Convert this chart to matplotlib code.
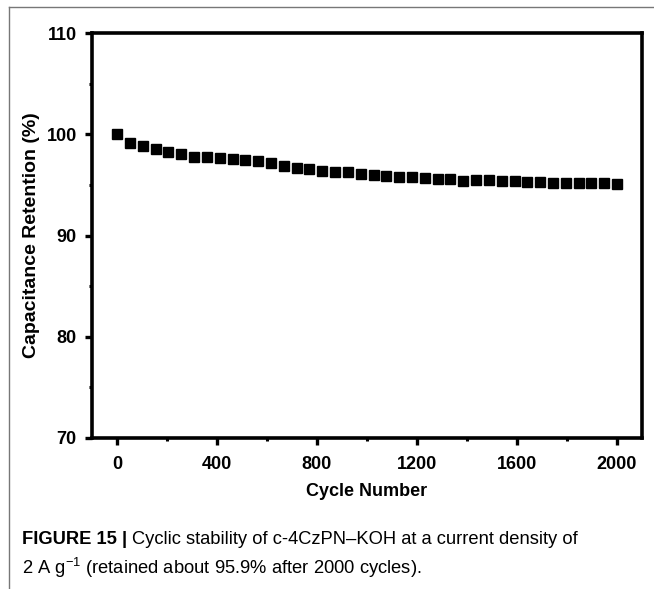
import matplotlib
matplotlib.use("Agg")
import matplotlib.pyplot as plt
from matplotlib.lines import Line2D

plt.rcParams['font.family'] = ['Liberation Sans', 'DejaVu Sans']
plt.rcParams['mathtext.fontset'] = 'custom'
plt.rcParams['mathtext.rm'] = 'Liberation Sans'
plt.rcParams['mathtext.it'] = 'Liberation Sans:italic'

cycles = [0, 51, 103, 154, 205, 256, 308, 359, 410, 462, 513, 564, 615, 667,
          718, 769, 821, 872, 923, 974, 1026, 1077, 1128, 1179, 1231, 1282,
          1333, 1385, 1436, 1487, 1538, 1590, 1641, 1692, 1744, 1795, 1846,
          1897, 1949, 2000]
retention = [100.0, 99.18, 98.85, 98.5, 98.2, 98.05, 97.76, 97.76, 97.66, 97.53,
             97.43, 97.33, 97.17, 96.87, 96.7, 96.54, 96.4, 96.28, 96.28, 96.1,
             96.02, 95.92, 95.82, 95.75, 95.69, 95.59, 95.56, 95.42, 95.52, 95.46,
             95.39, 95.36, 95.33, 95.26, 95.19, 95.23, 95.23, 95.19, 95.23, 95.13]
x_ticks = [0, 400, 800, 1200, 1600, 2000]
y_ticks = [70, 80, 90, 100, 110]
x_label = "Cycle Number"
y_label = "Capacitance Retention (%)"
caption_bold = "FIGURE 15 | "
caption_line1 = "Cyclic stability of c-4CzPN\u2013KOH at a current density of"
caption_line2 = r"2 A g$^{-1}$ (retained about 95.9% after 2000 cycles)."

W, H = 654, 589
fig = plt.figure(figsize=(W / 100, H / 100), dpi=100)
ax = fig.add_axes([92 / W, 1 - 438 / H, (642 - 92) / W, (438 - 33) / H])

ax.plot(cycles, retention, linestyle='none', marker='s', ms=6.6, color='black')
ax.set_xlim(-100, 2100)
ax.set_ylim(70, 110)
ax.set_xticks(x_ticks)
ax.set_yticks(y_ticks)
ax.set_xticks([200, 600, 1000, 1400, 1800], minor=True)
ax.set_yticks([75, 85, 95, 105], minor=True)
for s in ax.spines.values():
    s.set_linewidth(2.6)
ax.tick_params(which='major', length=5, width=2.4, labelsize=13)
ax.tick_params(axis='x', which='major', pad=8)
ax.tick_params(axis='y', which='major', pad=6)
ax.tick_params(which='minor', length=2.5, width=2.2)
for lab in ax.get_xticklabels() + ax.get_yticklabels():
    lab.set_fontweight('bold')
ax.set_xlabel(x_label, fontsize=13, fontweight='bold', labelpad=7)
ax.set_ylabel(y_label, fontsize=14, fontweight='bold', labelpad=5)

# figure border (left and top)
fig.add_artist(Line2D([9 / W, 9 / W], [0, 1 - 7 / H], color='#777777', lw=1.0,
                      transform=fig.transFigure))
fig.add_artist(Line2D([9 / W, 1], [1 - 7 / H, 1 - 7 / H], color='#777777', lw=1.0,
                      transform=fig.transFigure))

# caption
cap_fs = 13.2
t1 = fig.text(22 / W, 1 - 539 / H, caption_bold, fontsize=cap_fs, fontweight='bold',
              va='center', ha='left')
fig.canvas.draw()
bb = t1.get_window_extent()
fig.text(bb.x1 / W, 1 - 539 / H, caption_line1, fontsize=cap_fs, va='center', ha='left')
fig.text(22 / W, 1 - 568 / H, caption_line2, fontsize=cap_fs, va='center', ha='left')

fig.savefig("out.png", dpi=100)
